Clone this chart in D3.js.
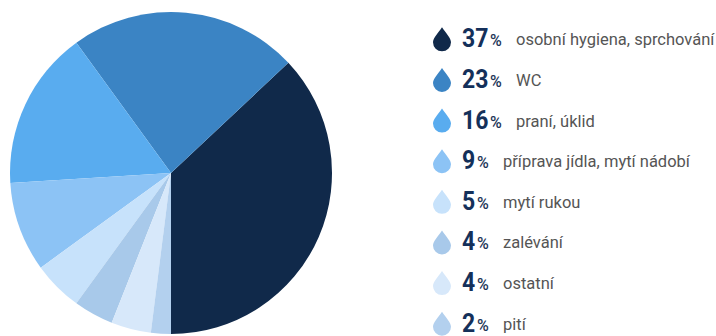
<!DOCTYPE html>
<html>
<head>
<meta charset="utf-8">
<script src="https://cdn.jsdelivr.net/npm/d3@7"></script>
<style>
  body { margin: 0; background: #fff; }
  .num { font-family: Roboto, "Noto Sans", sans-serif; font-weight: bold; fill: #14305a; }
  .pct { font-family: Roboto, "Noto Sans", sans-serif; font-weight: 500; fill: #1d3658; }
  .lbl { font-family: Roboto, "Noto Sans", sans-serif; fill: #555; }
</style>
</head>
<body>
<div class="chart"></div>
<script>
let FRAME_WIDTH = 716;
let FRAME_HEIGHT = 336;

// data
const categories = ["osobní hygiena, sprchování", "WC", "praní, úklid", "příprava jídla, mytí nádobí",
                    "mytí rukou", "zalévání", "ostatní", "pití"];
const shares = [37, 23, 16, 9, 5, 4, 4, 2];
const colors = ["#10294a", "#3b84c4", "#59acef", "#8cc3f5", "#c7e2fb", "#a8c9ea", "#d7e8fa", "#b3d0ee"];

let FRAME = d3.select(".chart")
              .append("svg")
              .attr("width", FRAME_WIDTH)
              .attr("height", FRAME_HEIGHT);

// pie, starting at 6 o'clock going counter-clockwise
const CX = 171, CY = 173, R = 161;

const pie = d3.pie()
              .sort(null)
              .startAngle(Math.PI)
              .endAngle(-Math.PI);

const arc = d3.arc().innerRadius(0).outerRadius(R);

const COLOR = d3.scaleOrdinal().domain(categories).range(colors);

FRAME.append("g")
     .attr("transform", "translate(" + CX + "," + CY + ")")
     .selectAll("path")
     .data(pie(shares))
     .enter()
     .append("path")
       .attr("d", arc)
       .attr("fill", (d, i) => COLOR(categories[i]));

// legend
const Y_LEG = d3.scaleBand()
                .domain(categories)
                .range([18, 343]);

let rows = FRAME.selectAll(".row")
                .data(categories)
                .enter()
                .append("g")
                .attr("class", "row")
                .attr("transform", (d) => "translate(0," + (Y_LEG(d) + Y_LEG.bandwidth() / 2) + ")");

// water drop
rows.append("path")
    .attr("d", "M442,-11 C438,-5 433,0 433,4 A9,9 0 0 0 451,4 C451,0 446,-5 442,-11 Z")
    .attr("fill", (d) => COLOR(d));

rows.append("text")
    .attr("class", "num")
    .attr("x", 462)
    .attr("y", 9)
    .attr("transform", "translate(462,0) scale(0.92,1) translate(-462,0)")
    .style("font-size", "25px")
    .text((d, i) => shares[i]);

rows.append("text")
    .attr("class", "pct")
    .attr("x", (d, i) => shares[i] >= 10 ? 490 : 477)
    .attr("y", 8)
    .style("font-size", "16px")
    .text("%");

rows.append("text")
    .attr("class", "lbl")
    .attr("x", (d, i) => shares[i] >= 10 ? 516 : 503)
    .attr("y", 7)
    .style("font-size", "16.5px")
    .text((d) => d);
</script>
</body>
</html>
